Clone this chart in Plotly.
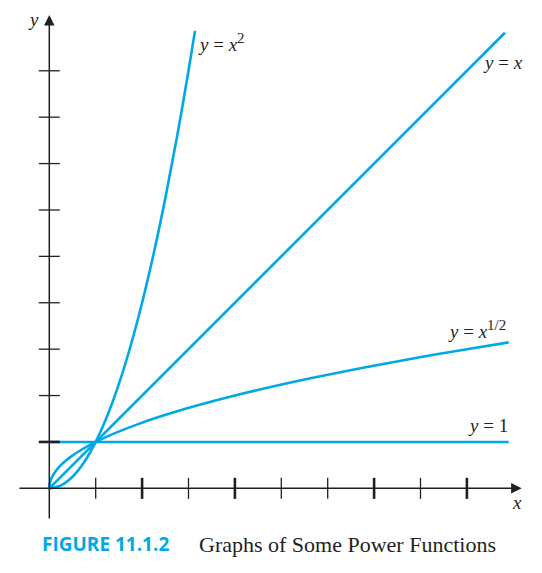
import plotly.graph_objects as go

x_sq = [0, 0.25, 0.5, 0.75, 1, 1.25, 1.5, 1.75, 2, 2.25, 2.5, 2.75, 3, 3.14]
y_sq = [0, 0.0625, 0.25, 0.5625, 1, 1.5625, 2.25, 3.0625, 4, 5.0625, 6.25, 7.5625, 9, 9.86]

x_lin = [0, 9.82]
y_lin = [0, 9.82]

x_root = [0, 0.01, 0.04, 0.09, 0.16, 0.25, 0.36, 0.49, 0.64, 0.81, 1,
          1.44, 1.96, 2.56, 3.24, 4, 4.84, 5.76, 6.76, 7.84, 9, 9.9]
y_root = [0, 0.1, 0.2, 0.3, 0.4, 0.5, 0.6, 0.7, 0.8, 0.9, 1,
          1.2, 1.4, 1.6, 1.8, 2, 2.2, 2.4, 2.6, 2.8, 3, 3.146]

x_one = [0, 9.9]
y_one = [1, 1]

tick_vals = [1, 2, 3, 4, 5, 6, 7, 8, 9]
x_tick_w = [1.3, 2.6, 1.3, 2.6, 1.3, 1.3, 2.6, 1.3, 2.6]
y_tick_w = [2.6, 1.3, 1.3, 1.3, 1.3, 1.3, 1.3, 1.3, 1.3]

blue = '#00a8e6'
ink = '#231f20'
serif = 'Liberation Serif'

fig = go.Figure()

for xs, ys in [(x_sq, y_sq), (x_lin, y_lin), (x_root, y_root), (x_one, y_one)]:
    fig.add_trace(go.Scatter(x=xs, y=ys, mode='lines',
                             line=dict(color=blue, width=2.6, shape='spline'),
                             hoverinfo='skip'))

# tick marks crossing the axes
fig.add_trace(go.Scatter(x=tick_vals, y=[0] * len(tick_vals), mode='markers',
                         marker=dict(symbol='line-ns-open', size=15, color=ink,
                                     line=dict(color=ink, width=x_tick_w)),
                         hoverinfo='skip'))
fig.add_trace(go.Scatter(x=[0] * len(tick_vals), y=tick_vals, mode='markers',
                         marker=dict(symbol='line-ew-open', size=15, color=ink,
                                     line=dict(color=ink, width=y_tick_w)),
                         hoverinfo='skip'))

# axes with arrows
fig.add_annotation(x=10.18, y=0, ax=-0.675, ay=0, xref='x', yref='y', axref='x', ayref='y',
                   text='', showarrow=True, arrowhead=2, arrowsize=1.4, arrowwidth=1.5,
                   arrowcolor=ink, standoff=0)
fig.add_annotation(x=0, y=10.2, ax=0, ay=-0.68, xref='x', yref='y', axref='x', ayref='y',
                   text='', showarrow=True, arrowhead=2, arrowsize=1.4, arrowwidth=1.5,
                   arrowcolor=ink, standoff=0)

sup = '<sup><span style="font-size:15px">{}</span></sup>'
labels = [
    (3.72, 9.62, '<i>y</i> = <i>x</i>' + sup.format('2')),
    (9.77, 9.17, '<i>y</i> = <i>x</i>'),
    (9.22, 3.42, '<i>y</i> = <i>x</i>' + sup.format('1/2')),
    (9.45, 1.36, '<i>y</i> = 1'),
    (10.08, -0.30, '<i>x</i>'),
    (-0.35, 10.1, '<i>y</i>'),
]
for lx, ly, txt in labels:
    fig.add_annotation(x=lx, y=ly, text=txt, showarrow=False,
                       font=dict(family=serif, size=19, color=ink))

# caption
fig.add_annotation(x=(40 - 10) / 520, y=-0.037, xref='paper', yref='paper',
                   xanchor='left', yanchor='middle', showarrow=False,
                   text='<b>FIGURE 11.1.2</b>',
                   font=dict(family='Open Sans', size=19, color=blue))
fig.add_annotation(x=(197 - 10) / 520, y=-0.037, xref='paper', yref='paper',
                   xanchor='left', yanchor='middle', showarrow=False,
                   text='Graphs of Some Power Functions',
                   font=dict(family=serif, size=22, color=ink))

# the page body adds 8px offset, so the margins are shifted to compensate
fig.update_layout(
    width=542, height=573,
    margin=dict(l=2, r=20, t=2, b=56),
    plot_bgcolor='white', paper_bgcolor='white',
    showlegend=False,
    xaxis=dict(range=[-0.847, 10.36], visible=False),
    yaxis=dict(range=[-0.79, 10.31], visible=False),
)

fig.write_html("out.html")
